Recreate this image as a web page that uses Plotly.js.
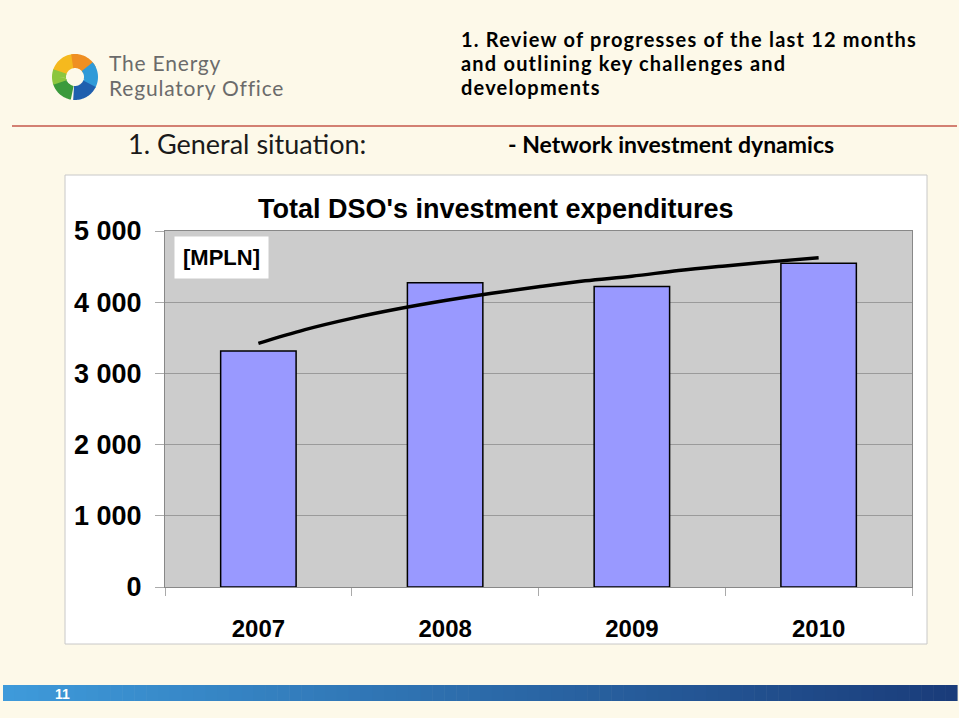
<!DOCTYPE html>
<html>
<head>
<meta charset="utf-8">
<script src="https://cdn.plot.ly/plotly-3.0.1.min.js"></script>
<style>html,body{margin:0;padding:0;background:#fdf9e9;}#chart{width:959px;height:718px;}</style>
</head>
<body>
<div id="chart"></div>
<script>
// ---- data ----
const years = [2007, 2008, 2009, 2010];
const yearLabels = ['2007', '2008', '2009', '2010'];
const investment = [3313, 4273, 4222, 4546]; // MPLN
const trendX = [2007, 2007.25, 2007.5, 2007.75, 2008, 2008.25, 2008.5, 2008.75, 2009, 2009.25, 2009.5, 2009.75, 2010];
const trendY = [3421, 3615, 3773, 3907, 4023, 4126, 4217, 4300, 4365, 4445, 4510, 4570, 4625];
const yTickVals = [0, 1000, 2000, 3000, 4000, 5000];
const yTickText = ['0', '1 000', '2 000', '3 000', '4 000', '5 000'];
const boundaryTicks = [2006.5, 2007.5, 2008.5, 2009.5, 2010.5];

// ---- pixel helpers for slide decoration ----
const L = 165, R = 912, T = 231, B = 587;
const px = x => (x - L) / (R - L);
const py = y => (B - y) / (B - T);

const shapes = [];
// white chart box
shapes.push({type:'rect', xref:'paper', yref:'paper', x0:px(65), x1:px(927), y0:py(644), y1:py(175),
  fillcolor:'#ffffff', line:{color:'#c8c8c8', width:1}, layer:'below'});
// gray plot area
shapes.push({type:'rect', xref:'paper', yref:'paper', x0:0, x1:1, y0:0, y1:1,
  fillcolor:'#cccccc', line:{width:0}, layer:'below'});
// red separator
shapes.push({type:'line', xref:'paper', yref:'paper', x0:px(12), x1:px(957), y0:py(126), y1:py(126),
  line:{color:'#c4574a', width:1.5}, layer:'below'});
// bottom gradient bar
const nSeg = 80, bx0 = 3, bx1 = 957;
const c0 = [62,154,218], c1 = [26,60,122];
for (let i = 0; i < nSeg; i++) {
  const t = i / (nSeg - 1);
  const col = 'rgb(' + c0.map((v, k) => Math.round(v + (c1[k] - v) * t)).join(',') + ')';
  const a = bx0 + (bx1 - bx0) * i / nSeg, b = bx0 + (bx1 - bx0) * (i + 1) / nSeg + 0.6;
  shapes.push({type:'rect', xref:'paper', yref:'paper', x0:px(a), x1:px(b), y0:py(701), y1:py(685),
    fillcolor:col, line:{width:0}, layer:'below'});
}
// logo arcs
function arc(cx, cy, r, a0, a1, color, w) {
  const n = 24; let d = '';
  for (let i = 0; i <= n; i++) {
    const a = (a0 + (a1 - a0) * i / n) * Math.PI / 180;
    const x = cx + r * Math.cos(a), y = cy - r * Math.sin(a);
    d += (i ? 'L' : 'M') + px(x).toFixed(5) + ',' + py(y).toFixed(5);
  }
  shapes.push({type:'path', xref:'paper', yref:'paper', path:d, line:{color:color, width:w}, layer:'below'});
}
arc(75, 77, 16, 165, 95, '#f5b91e', 14);
arc(75, 77, 16, 100, 25, '#ef8f22', 14);
arc(75, 77, 16, 40, -30, '#2f9ad8', 14);
arc(75, 77, 16, -25, -95, '#1f5fae', 14);
arc(75, 77, 16, -100, -165, '#3b9a3c', 14);
arc(75, 77, 16, -160, -200, '#8cc63f', 14);

const slideFont = 'Lato, "Open Sans", sans-serif';
const chartFont = '"Liberation Sans", Arial, sans-serif';
function ann(text, x, y, size, opts) {
  return Object.assign({text:text, xref:'paper', yref:'paper', x:px(x), y:py(y), showarrow:false,
    xanchor:'left', yanchor:'middle', font:{family:slideFont, size:size, color:'#000'}}, opts || {});
}
const annotations = [
  ann('<b>1. Review of progresses of the last 12 months<br>and outlining key challenges and<br>developments</b>',
      459, 25, 20, {yanchor:'top', align:'left'}),
  ann('The Energy<br>Regulatory Office', 107, 48, 21,
      {yanchor:'top', align:'left', font:{family:slideFont, size:21, color:'#6b6b6b'}}),
  ann('1. General situation:', 126, 144, 27, {font:{family:slideFont, size:27, color:'#1a1a1a'}}),
  ann('<b>- Network investment dynamics</b>', 506, 144, 23),
  ann('<b>Total DSO\'s investment expenditures</b>', 496, 209, 27,
      {xanchor:'center', font:{family:chartFont, size:27, color:'#000'}}),
  ann('<b>[MPLN]</b>', 221, 257, 22,
      {xanchor:'center', bgcolor:'#ffffff', borderpad:8, font:{family:chartFont, size:22, color:'#000'}}),
  ann('<b>11</b>', 62, 694, 14, {xanchor:'center', font:{family:chartFont, size:14, color:'#ffffff'}})
];
// line spacing (em) and letter spacing (px) for the multi-line slide texts
const lineSpacing = {0: 1.2, 1: 1.2};
const letterSpacing = {0: '1.2px', 1: '0.8px'};

const traces = [
  {type:'bar', x:years, y:investment, width:0.404,
   marker:{color:'#9999ff', line:{color:'#000000', width:1.5}}, hoverinfo:'x+y'},
  {type:'scatter', mode:'lines', x:trendX, y:trendY,
   line:{color:'#000000', width:3.5, shape:'spline'}, hoverinfo:'skip'}
];

const layout = {
  width:959, height:718,
  margin:{l:L, r:959 - R, t:T, b:718 - B, pad:0},
  paper_bgcolor:'#fdf9e9', plot_bgcolor:'rgba(0,0,0,0)',
  showlegend:false,
  font:{family:chartFont, color:'#000'},
  xaxis:{type:'linear', range:[2006.5, 2010.5], tickmode:'array', tickvals:years, ticktext:yearLabels,
    ticks:'outside', ticklen:20, tickcolor:'rgba(0,0,0,0)',
    tickfont:{family:chartFont, size:24, color:'#000', weight:'bold'},
    showgrid:false, zeroline:false, showline:true, linecolor:'#888888', linewidth:1, mirror:true,
    minor:{tickmode:'array', tickvals:boundaryTicks, ticks:'outside', ticklen:8, tickcolor:'#aaaaaa', showgrid:false}},
  yaxis:{range:[0, 5000], tickmode:'array', tickvals:yTickVals, ticktext:yTickText,
    ticks:'outside', ticklen:9, tickcolor:'#aaaaaa', ticklabelstandoff:8,
    tickfont:{family:chartFont, size:27, color:'#000', weight:'bold'},
    showgrid:true, gridcolor:'#9a9a9a', gridwidth:1, zeroline:false,
    showline:true, linecolor:'#888888', linewidth:1, mirror:true},
  shapes:shapes, annotations:annotations
};

Plotly.newPlot('chart', traces, layout, {displayModeBar:false, staticPlot:true}).then(gd => {
  gd.querySelectorAll('g.annotation').forEach(g => {
    const idx = +g.getAttribute('data-index');
    if (!(idx in lineSpacing)) return;
    const txt = g.querySelector('text.annotation-text');
    if (txt) txt.setAttribute('letter-spacing', letterSpacing[idx]);
    g.querySelectorAll('tspan.line').forEach((t, i) => t.setAttribute('dy', (i * lineSpacing[idx]) + 'em'));
  });
});
</script>
</body>
</html>
